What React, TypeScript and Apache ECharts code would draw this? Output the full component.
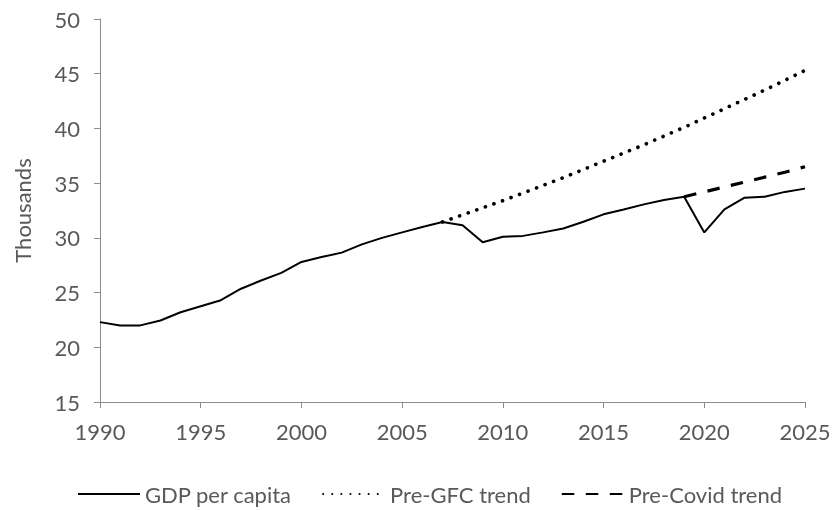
import React, { useEffect, useRef } from "react";
import * as echarts from "echarts";

const years: number[] = [];
for (let y = 1990; y <= 2025; y++) years.push(y);

const gdpPerCapita = [
  22.3, 22.0, 22.0, 22.45, 23.2, 23.75, 24.3, 25.35, 26.1, 26.8,
  27.8, 28.25, 28.65, 29.4, 30.0, 30.5, 31.0, 31.45, 31.15, 29.6,
  30.1, 30.18, 30.5, 30.85, 31.47, 32.15, 32.6, 33.06, 33.46, 33.76,
  30.5, 32.6, 33.67, 33.76, 34.2, 34.5,
];

const preGfcYears = [2007, 2008, 2009, 2010, 2011, 2012, 2013, 2014, 2015, 2016, 2017, 2018, 2019, 2020, 2021, 2022, 2023, 2024, 2025];
const preGfcTrend = [31.45, 32.1, 32.75, 33.4, 34.1, 34.8, 35.5, 36.25, 37.0, 37.75, 38.5, 39.3, 40.1, 40.95, 41.8, 42.65, 43.5, 44.4, 45.3];

const preCovidYears = [2019, 2020, 2021, 2022, 2023, 2024, 2025];
const preCovidTrend = [33.76, 34.2, 34.65, 35.1, 35.55, 36.0, 36.5];

const FONT = "Lato, 'Noto Sans', sans-serif";
const TEXT = "#595959";
const AXIS = "#8c8c8c";

export default function App() {
  const ref = useRef<HTMLDivElement>(null);
  useEffect(() => {
    if (!ref.current) return;
    const chart = echarts.init(ref.current, undefined, { renderer: "svg" });
    chart.setOption({
      animation: false,
      textStyle: { fontFamily: FONT },
      grid: { left: 100, right: 30, top: 19, bottom: 108, containLabel: false },
      legend: {
        top: 478,
        left: 72,
        itemWidth: 62,
        itemHeight: 14,
        itemGap: 30,
        itemStyle: { opacity: 0 },
        textStyle: { fontFamily: FONT, fontSize: 22, color: TEXT },
        data: ["GDP per capita", "Pre-GFC trend", "Pre-Covid trend"],
      },
      xAxis: {
        type: "value",
        min: 1990,
        max: 2025,
        interval: 5,
        axisLine: { lineStyle: { color: AXIS, width: 1 } },
        axisTick: { show: true, length: 6, lineStyle: { color: AXIS } },
        axisLabel: {
          color: TEXT,
          fontSize: 22,
          fontFamily: FONT,
          margin: 18,
          formatter: (v: number) => String(v),
        },
        splitLine: { show: false },
      },
      yAxis: {
        type: "value",
        min: 15,
        max: 50,
        interval: 5,
        name: "Thousands",
        nameLocation: "middle",
        nameGap: 67,
        nameTextStyle: { color: TEXT, fontSize: 22, fontFamily: FONT },
        axisLine: { show: true, lineStyle: { color: AXIS, width: 1 } },
        axisTick: { show: true, length: 6, lineStyle: { color: AXIS } },
        axisLabel: { color: TEXT, fontSize: 22, fontFamily: FONT, margin: 20 },
        splitLine: { show: false },
      },
      series: [
        {
          name: "GDP per capita",
          type: "line",
          symbol: "none",
          data: years.map((y, i) => [y, gdpPerCapita[i]]),
          lineStyle: { color: "#000", width: 2 },
          itemStyle: { color: "#000" },
        },
        {
          name: "Pre-GFC trend",
          type: "line",
          symbol: "none",
          data: preGfcYears.map((y, i) => [y, preGfcTrend[i]]),
          lineStyle: { color: "#000", width: 3.6, type: [0.1, 9], cap: "round" },
          itemStyle: { color: "#000" },
        },
        {
          name: "Pre-Covid trend",
          type: "line",
          symbol: "none",
          data: preCovidYears.map((y, i) => [y, preCovidTrend[i]]),
          lineStyle: { color: "#000", width: 3.2, type: [12.5, 11.5] },
          itemStyle: { color: "#000" },
        },
      ],
    });
    return () => chart.dispose();
  }, []);
  return (
    <div
      ref={ref}
      style={{ position: "fixed", left: 0, top: 0, width: 835, height: 510 }}
    />
  );
}
